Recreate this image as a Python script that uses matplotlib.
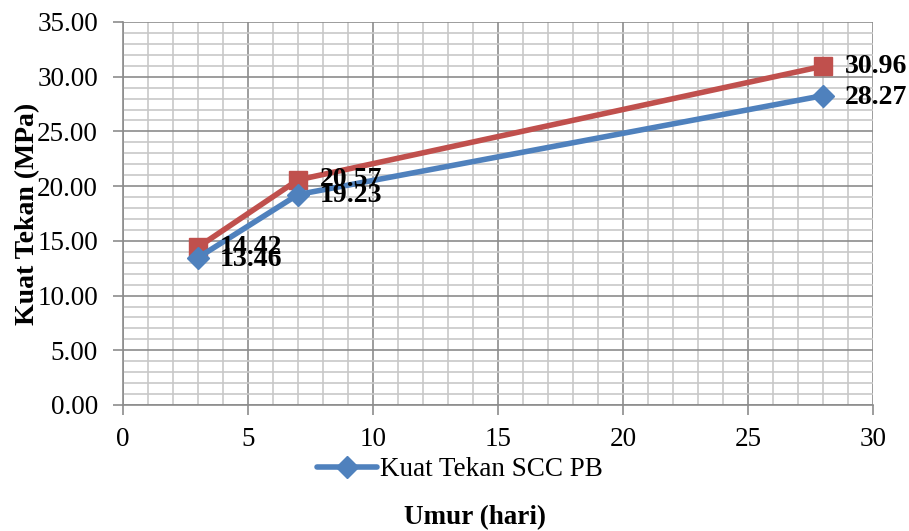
import matplotlib
matplotlib.use("Agg")
import matplotlib.pyplot as plt
from matplotlib.ticker import MultipleLocator, FormatStrFormatter

umur = [3, 7, 28]
kuat_pb = [13.46, 19.23, 28.27]
kuat_red = [14.42, 20.57, 30.96]
legend_label = "Kuat Tekan SCC PB"

plt.rcParams['font.family'] = ['Liberation Serif', 'DejaVu Serif']

fig = plt.figure(figsize=(9.09, 5.31), dpi=100)
ax = fig.add_axes([0.1353, 0.2373, 0.8251, 0.7213])

blue = '#4F81BD'
red = '#C0504D'

ax.plot(umur, kuat_pb, color=blue, lw=4, marker='D', ms=11, mec=blue, mfc=blue,
        label=legend_label, zorder=4, solid_capstyle='round')
ax.plot(umur, kuat_red, color=red, lw=4, marker='s', ms=13, mec=red, mfc=red,
        zorder=3, solid_capstyle='round')

for x, y in zip(umur, kuat_red):
    ax.annotate(f"{y:.2f}", (x, y), xytext=(16, 0), textcoords='offset points',
                ha='left', va='center', fontsize=20, fontweight='bold', zorder=6)
for x, y in zip(umur, kuat_pb):
    ax.annotate(f"{y:.2f}", (x, y), xytext=(16, -1), textcoords='offset points',
                ha='left', va='center', fontsize=20, fontweight='bold', zorder=6)

ax.set_xlim(0, 30)
ax.set_ylim(0, 35)
ax.xaxis.set_major_locator(MultipleLocator(5))
ax.xaxis.set_minor_locator(MultipleLocator(1))
ax.yaxis.set_major_locator(MultipleLocator(5))
ax.yaxis.set_minor_locator(MultipleLocator(1))
ax.yaxis.set_major_formatter(FormatStrFormatter('%.2f'))

ax.grid(which='major', color='#8C8C8C', lw=1.2, zorder=1)
ax.grid(which='minor', color='#C8C8C8', lw=1.2, zorder=0)
ax.set_axisbelow(True)

for s in ['top', 'right']:
    ax.spines[s].set_visible(False)
for s in ['left', 'bottom']:
    ax.spines[s].set_color('#8C8C8C')
    ax.spines[s].set_linewidth(1.2)

ax.tick_params(which='major', length=7, width=1.2, color='#8C8C8C', labelsize=19.5)
ax.tick_params(axis='y', which='major', pad=11)
ax.tick_params(axis='x', which='major', pad=9)
ax.tick_params(which='minor', length=0)

ax.set_ylabel("Kuat Tekan (MPa)", fontsize=20, fontweight='bold', labelpad=-2)
fig.text(0.5226, 0.026, "Umur (hari)", ha='center', va='center', fontsize=19.5, fontweight='bold')

fig.legend(loc='center', bbox_to_anchor=(0.506, 0.115), frameon=False, fontsize=19.5,
           handlelength=2.2, handletextpad=0.1, borderpad=0)

fig.savefig("out.png", dpi=100)
